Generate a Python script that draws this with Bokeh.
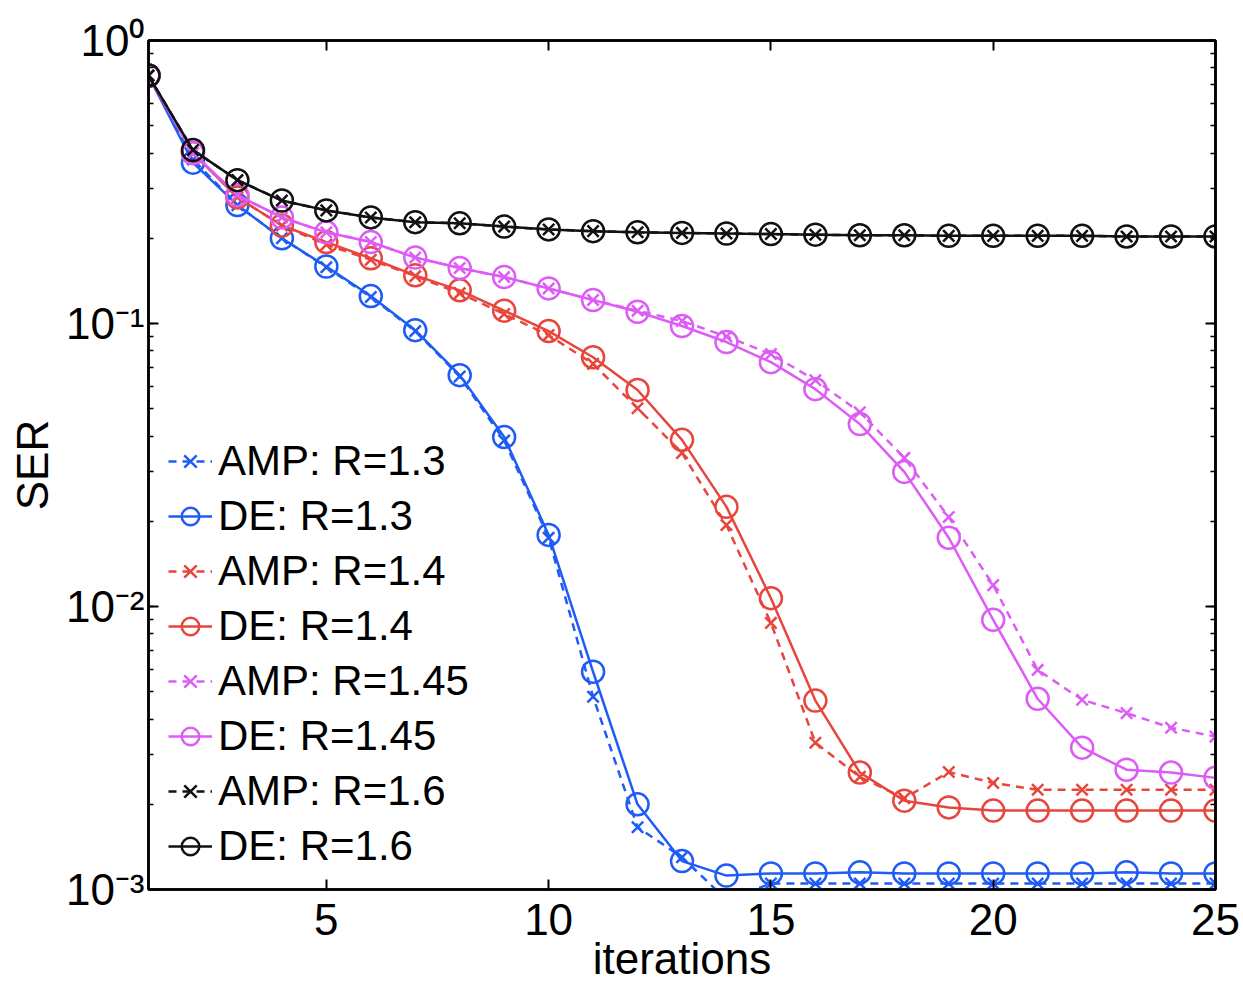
from bokeh.plotting import figure
from bokeh.models import LinearAxis, LogAxis, FixedTicker, Legend, CustomJSTickFormatter
from bokeh.embed import file_html
from bokeh.resources import INLINE

iterations = list(range(1, 26))

amp_13 = [0.752, 0.38, 0.262, 0.200, 0.158, 0.124, 0.094, 0.065, 0.0386, 0.0175, 0.0048, 0.00166, 0.00130, 0.00092,
          0.00105, 0.00105, 0.00105, 0.00105, 0.00105, 0.00105, 0.00105, 0.00105, 0.00105, 0.00105, 0.00105]
de_13 = [0.752, 0.37, 0.262, 0.200, 0.159, 0.125, 0.0947, 0.0657, 0.0397, 0.0179, 0.00588, 0.0020, 0.00126, 0.00112,
         0.00114, 0.00114, 0.00115, 0.00114, 0.00114, 0.00114, 0.00114, 0.00114, 0.00115, 0.00114, 0.00114]
amp_14 = [0.752, 0.40, 0.279, 0.222, 0.190, 0.168, 0.147, 0.128, 0.108, 0.091, 0.072, 0.0502, 0.0349, 0.0194, 0.00875,
          0.0033, 0.0025, 0.0021, 0.0026, 0.00238, 0.00225, 0.00225, 0.00225, 0.00225, 0.00225]
de_14 = [0.752, 0.40, 0.279, 0.222, 0.194, 0.170, 0.148, 0.131, 0.111, 0.094, 0.076, 0.0582, 0.0388, 0.0225, 0.0107,
         0.00465, 0.00259, 0.00206, 0.00195, 0.0019, 0.0019, 0.0019, 0.0019, 0.0019, 0.0019]
amp_145 = [0.752, 0.40, 0.284, 0.237, 0.210, 0.194, 0.171, 0.157, 0.146, 0.133, 0.121, 0.111, 0.102, 0.090, 0.078,
           0.063, 0.0486, 0.0335, 0.0207, 0.0119, 0.00597, 0.00468, 0.0042, 0.00373, 0.00347]
de_145 = [0.752, 0.40, 0.284, 0.237, 0.210, 0.194, 0.171, 0.157, 0.146, 0.133, 0.121, 0.110, 0.098, 0.086, 0.073,
          0.0586, 0.0441, 0.0299, 0.0175, 0.00897, 0.00472, 0.00317, 0.00265, 0.00259, 0.00248]
amp_16 = [0.752, 0.41, 0.321, 0.272, 0.251, 0.237, 0.228, 0.226, 0.220, 0.215, 0.212, 0.210, 0.209, 0.208, 0.207,
          0.206, 0.205, 0.205, 0.204, 0.204, 0.204, 0.204, 0.203, 0.203, 0.203]
de_16 = [0.752, 0.41, 0.321, 0.272, 0.251, 0.237, 0.228, 0.226, 0.220, 0.215, 0.212, 0.210, 0.209, 0.208, 0.207,
         0.206, 0.205, 0.205, 0.204, 0.204, 0.204, 0.204, 0.203, 0.203, 0.203]

x_ticks = [5, 10, 15, 20, 25]
y_ticks = [1e-3, 1e-2, 1e-1, 1.0]
y_tick_labels = ["10\u207b\u00b3", "10\u207b\u00b2", "10\u207b\u00b9", "10\u2070"]

series = [
    ("AMP: R=1.3", amp_13, "#1f5cf5", "amp"),
    ("DE: R=1.3", de_13, "#1f5cf5", "de"),
    ("AMP: R=1.4", amp_14, "#e8453c", "amp"),
    ("DE: R=1.4", de_14, "#e8453c", "de"),
    ("AMP: R=1.45", amp_145, "#dd5cf5", "amp"),
    ("DE: R=1.45", de_145, "#dd5cf5", "de"),
    ("AMP: R=1.6", amp_16, "#111111", "amp"),
    ("DE: R=1.6", de_16, "#111111", "de"),
]

FONT = "Liberation Sans"

p = figure(width=1243, height=985, y_axis_type="log", x_range=(1, 25), y_range=(1e-3, 1.0),
           output_backend="svg", toolbar_location=None,
           min_border_left=148, min_border_right=28, min_border_top=40, min_border_bottom=95)
p.grid.visible = False
p.outline_line_color = "black"
p.outline_line_width = 2.5
p.background_fill_color = "white"
p.border_fill_color = "white"

items = []
for label, vals, color, kind in series:
    if kind == "amp":
        r1 = p.line(iterations, vals, line_color=color, line_width=2.5, line_dash="8 6")
        r2 = p.scatter(iterations, vals, marker="x", size=16, line_color=color, line_width=2.5)
    else:
        r1 = p.line(iterations, vals, line_color=color, line_width=2.5)
        r2 = p.scatter(iterations, vals, marker="circle", size=22, line_color=color, line_width=2.5,
                       fill_alpha=0)
    items.append((label, [r1, r2]))

legend = Legend(items=items, location=(18, 16))
legend.label_text_font = FONT
legend.label_text_font_size = "42px"
legend.label_text_color = "black"
legend.glyph_width = 44
legend.glyph_height = 50
legend.label_height = 50
legend.spacing = 5
legend.padding = 2
legend.margin = 0
legend.label_standoff = 6
legend.border_line_alpha = 0
legend.background_fill_alpha = 0
p.add_layout(legend, "center")

# bottom / left axes
xa = p.xaxis[0]
xa.ticker = FixedTicker(ticks=x_ticks)
xa.axis_label = "iterations"
ya = p.yaxis[0]
ya.ticker.num_minor_ticks = 10
ya.major_label_overrides = {v: s for v, s in zip(y_ticks, y_tick_labels)}
ya.axis_label = "SER"

for ax in (xa, ya):
    ax.major_label_text_font = FONT
    ax.major_label_text_font_size = "44px"
    ax.major_label_text_color = "black"
    ax.axis_label_text_font = FONT
    ax.axis_label_text_font_size = "44px"
    ax.axis_label_text_font_style = "normal"
    ax.axis_label_text_color = "black"
    ax.axis_line_width = 2.5
    ax.axis_line_color = "black"
    ax.major_tick_in = 10
    ax.major_tick_out = 0
    ax.minor_tick_in = 5
    ax.minor_tick_out = 0
    ax.major_tick_line_width = 2
    ax.minor_tick_line_width = 1.5
xa.major_label_standoff = 14
xa.axis_label_standoff = -4
ya.major_label_standoff = 4
ya.axis_label_standoff = 6

# top / right axes (ticks only, no labels)
blank = CustomJSTickFormatter(code="return ''")
top = LinearAxis(ticker=FixedTicker(ticks=x_ticks), formatter=blank,
                 major_tick_in=10, major_tick_out=0, minor_tick_in=0, minor_tick_out=0,
                 axis_line_width=2.5, major_tick_line_width=2, major_label_standoff=0)
right = LogAxis(formatter=blank, major_tick_in=10, major_tick_out=0,
                minor_tick_in=5, minor_tick_out=0, axis_line_width=2.5,
                major_tick_line_width=2, minor_tick_line_width=1.5, major_label_standoff=0)
right.ticker.num_minor_ticks = 10
p.add_layout(top, "above")
p.add_layout(right, "right")

open("out.html", "w").write(file_html(p, INLINE))
